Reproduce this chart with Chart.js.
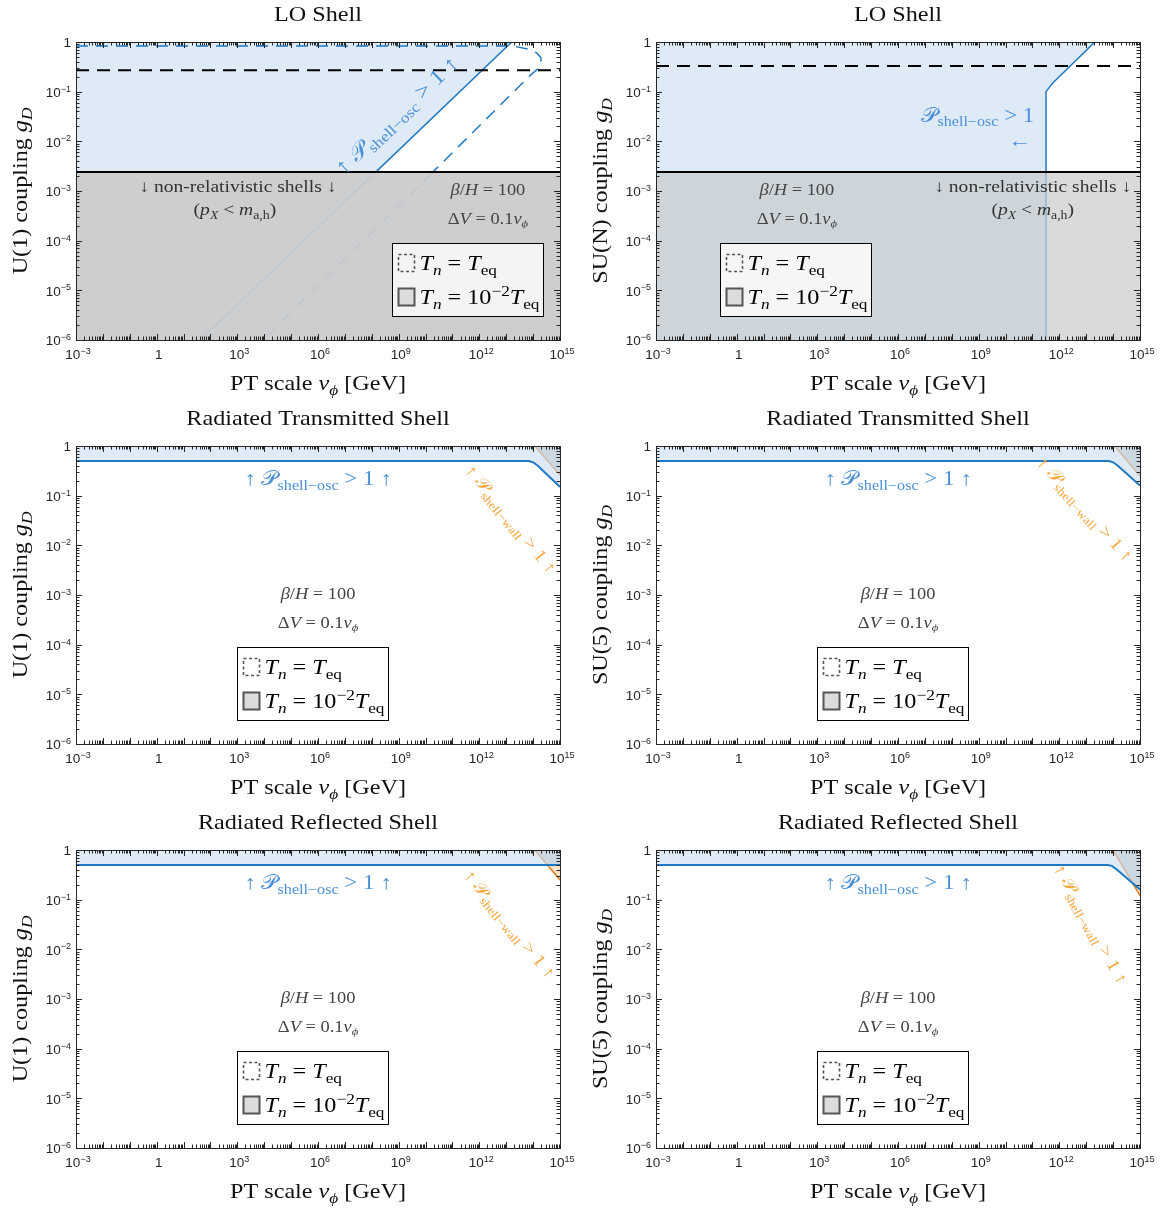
<!DOCTYPE html>
<html>
<head>
<meta charset="utf-8">
<script src="https://cdn.jsdelivr.net/npm/chart.js@4.4.1/dist/chart.umd.min.js"></script>
<style>
  body { margin: 0; background: #fff; }
  #grid { position: relative; width: 1163px; height: 1210px; }
  .cell { position: absolute; }
</style>
</head>
<body>
<div id="grid">
  <div class="cell" style="left:0;top:0"><canvas id="c0" width="580" height="404"></canvas></div>
  <div class="cell" style="left:580px;top:0"><canvas id="c1" width="583" height="404"></canvas></div>
  <div class="cell" style="left:0;top:404px"><canvas id="c2" width="580" height="404"></canvas></div>
  <div class="cell" style="left:580px;top:404px"><canvas id="c3" width="583" height="404"></canvas></div>
  <div class="cell" style="left:0;top:808px"><canvas id="c4" width="580" height="404"></canvas></div>
  <div class="cell" style="left:580px;top:808px"><canvas id="c5" width="583" height="404"></canvas></div>
</div>
<script>
// axes
const xTickValues = [1e-3, 1, 1e3, 1e6, 1e9, 1e12, 1e15];
const xTickLabels = ['10^-3', '1', '10^3', '10^6', '10^9', '10^12', '10^15'];
const yTickValues = [1e-6, 1e-5, 1e-4, 1e-3, 1e-2, 1e-1, 1];
const yTickLabels = ['10^-6', '10^-5', '10^-4', '10^-3', '10^-2', '10^-1', '1'];

const panelTitles = ['LO Shell', 'LO Shell', 'Radiated Transmitted Shell', 'Radiated Transmitted Shell',
                     'Radiated Reflected Shell', 'Radiated Reflected Shell'];
const gaugeGroups = ['U(1)', 'SU(N)', 'U(1)', 'SU(5)', 'U(1)', 'SU(5)'];

// non-relativistic bound and the black dashed reference lines (g_D)
const nonRelG = 2.4e-3;
const loU1DashRef = 0.27;
const loSUNDashRef = 0.33;

// LO shell U(1): Tn = 1e-2 Teq (solid) and Tn = Teq (dashed)
const loU1SolidV = [41, 1.4e8, 1.6e13];
const loU1SolidG = [1e-6, 2.4e-3, 1];
const loU1DashV = [1e-3, 1.8e13, 6.3e13, 1.4e14, 1.95e14, 1.95e14, 1.5e14, 7.6e13, 1.86e10, 8.9e3];
const loU1DashG = [0.83, 0.83, 0.72, 0.6, 0.48, 0.36, 0.29, 0.21, 2.4e-3, 1e-6];

// LO shell SU(N)
const loSUNV = [3.2e11, 3.2e11, 3.2e11, 5.7e11, 2.1e13];
const loSUNG = [1e-6, 2.4e-3, 0.1, 0.15, 1];

// radiated shells: P_shell-osc (blue) and P_shell-wall (orange) boundaries
const radTransU1OscV = [1e-3, 7e13, 1e14, 1.5e14, 1e15];
const radTransU1OscG = [0.5, 0.5, 0.47, 0.4, 0.15];
const radTransU1WallV = [1.15e14, 1e15];
const radTransU1WallG = [1, 0.26];

const radTransSU5OscV = [1e-3, 7e13, 1e14, 1.5e14, 1e15];
const radTransSU5OscG = [0.5, 0.5, 0.47, 0.4, 0.16];
const radTransSU5WallV = [1.15e14, 1e15];
const radTransSU5WallG = [1, 0.25];

const radReflU1OscV = [1e-3, 1e15];
const radReflU1OscG = [0.5, 0.5];
const radReflU1WallV = [1.15e14, 3.4e14, 1e15];
const radReflU1WallG = [1, 0.5, 0.25];

const radReflSU5OscV = [1e-3, 6.3e13, 9e13, 1.4e14, 1e15];
const radReflSU5OscG = [0.5, 0.5, 0.48, 0.4, 0.16];
const radReflSU5WallV = [1e14, 5.4e14, 1e15];
const radReflSU5WallG = [1, 0.213, 0.12];

const SERIF = '"Liberation Serif", "DejaVu Serif", serif';
const SANS = '"Liberation Sans", Arial, sans-serif';
const BLUE = 'rgb(30,120,195)';
const BLUE_TEXT = 'rgb(74,144,217)';
const BLUE_FAINT = 'rgb(172,196,220)';
const BLUE_FILL = 'rgb(222,235,247)';
const OVERLAP_FILL = 'rgb(204,216,225)';
const WALL_FILL = 'rgb(252,226,200)';
const ORANGE = 'rgb(226,122,32)';
const TAN = 'rgb(212,184,160)';
const ORANGE_TEXT = 'rgb(247,165,60)';
const NONE = 'rgba(0,0,0,0)';

const pts = (xs, ys) => xs.map((x, i) => ({x, y: ys[i]}));

function logInterp(xs, ys, x) {
  for (let i = 0; i < xs.length - 1; i++) {
    if (x >= xs[i] && x <= xs[i + 1]) {
      const t = (Math.log10(x) - Math.log10(xs[i])) / (Math.log10(xs[i + 1]) - Math.log10(xs[i]));
      return Math.pow(10, Math.log10(ys[i]) + t * (Math.log10(ys[i + 1]) - Math.log10(ys[i])));
    }
  }
  return 0;
}

function line(data, color, width, dash, order) {
  return {data, borderColor: color, borderWidth: width, borderDash: dash || [], fill: false, pointRadius: 0, order: order || 1};
}
function area(data, fill, color, order) {
  return {data, borderColor: NONE, borderWidth: 0, backgroundColor: color, fill, pointRadius: 0, order};
}

function loU1Sets() {
  return [
    line(pts([1e-3, 1e15], [nonRelG, nonRelG]), '#000', 2),
    line(pts([1e-3, 1e15], [loU1DashRef, loU1DashRef]), '#000', 2, [13, 8]),
    line(pts(loU1SolidV.slice(1), loU1SolidG.slice(1)), BLUE, 1.5),
    line(pts(loU1SolidV.slice(0, 2), loU1SolidG.slice(0, 2)), BLUE_FAINT, 1, [], 2),
    line(pts(loU1DashV.slice(0, 9), loU1DashG.slice(0, 9)), BLUE, 1.5, [12, 8]),
    line(pts(loU1DashV.slice(8), loU1DashG.slice(8)), BLUE_FAINT, 1, [12, 8], 2),
    area(pts([1e-3, 1e15], [nonRelG, nonRelG]), 'start', 'rgb(206,206,206)', 10),
    area(pts([1e-3].concat(loU1SolidV.slice(1)), [nonRelG].concat(loU1SolidG.slice(1))), 'end', BLUE_FILL, 10)
  ];
}

function loSUNSets() {
  return [
    line(pts([1e-3, 1e15], [nonRelG, nonRelG]), '#000', 2),
    line(pts([1e-3, 1e15], [loSUNDashRef, loSUNDashRef]), '#000', 2, [13, 8]),
    line(pts(loSUNV.slice(1), loSUNG.slice(1)), BLUE, 1.5),
    line(pts(loSUNV.slice(0, 2), loSUNG.slice(0, 2)), 'rgba(90,150,205,0.75)', 1, [], 2),
    area(pts([1e-3, 1e15], [nonRelG, nonRelG]), 'start', 'rgb(218,218,218)', 12),
    area(pts([1e-3, loSUNV[0]], [nonRelG, nonRelG]), 'start', 'rgb(206,213,218)', 11),
    area(pts([1e-3].concat(loSUNV.slice(1)), [nonRelG].concat(loSUNG.slice(1))), 'end', BLUE_FILL, 11)
  ];
}

function radiatedSets(oscV, oscG, wallV, wallG) {
  const segColor = c => {
    const xm = Math.sqrt(c.p0.parsed.x * c.p1.parsed.x);
    const ym = Math.sqrt(c.p0.parsed.y * c.p1.parsed.y);
    return ym > logInterp(oscV, oscG, xm) * 1.001 ? TAN : ORANGE;
  };
  const wall = line(pts(wallV, wallG), ORANGE, 1.5);
  wall.segment = {borderColor: segColor};
  return [
    line(pts(oscV, oscG), BLUE, 2),
    wall,
    area(pts(oscV, oscG), 'end', BLUE_FILL, 13),
    area(pts(wallV, wallG), 'end', OVERLAP_FILL, 12),
    area(pts(wallV, wallG), {target: 0, above: NONE, below: WALL_FILL}, WALL_FILL, 11)
  ];
}

// rich text runs
const oscArrowRuns = [['↑ ', 'r'], ['𝒫', 'r'], ['shell−osc', 'sub'], [' > 1 ↑', 'r']];
const wallRuns = [['↑ ', 'r'], ['𝒫', 'r'], ['shell−wall', 'sub'], [' > 1 ↑', 'r']];
const nonRelRuns = [['↓ non-relativistic shells ↓', 'r']];
const massRuns = [['(', 'r'], ['p', 'i'], ['X', 'subi'], [' < ', 'r'], ['m', 'i'], ['a,h', 'sub'], [')', 'r']];
const betaRuns = [['β', 'i'], ['/', 'r'], ['H', 'i'], [' = 100', 'r']];
const dvRuns = [['Δ', 'r'], ['V', 'i'], [' = 0.1', 'r'], ['v', 'i'], ['ϕ', 'subi']];
const legendTeqRuns = [['T', 'i'], ['n', 'subi'], [' = ', 'r'], ['T', 'i'], ['eq', 'sub']];
const legendTlowRuns = [['T', 'i'], ['n', 'subi'], [' = 10', 'r'], ['−2', 'sup'], ['T', 'i'], ['eq', 'sub']];
const xTitleRuns = [['PT scale ', 'r'], ['v', 'i'], ['ϕ', 'subi'], [' [GeV]', 'r']];

const p10 = e => Math.pow(10, e);
const infoTexts = (xe) => [
  {runs: betaRuns, at: [p10(xe), p10(-2.97)], size: 16, color: '#444'},
  {runs: dvRuns, at: [p10(xe), p10(-3.55)], size: 16, color: '#444'}
];

const panelSpecs = {
  c0: {sets: loU1Sets(), legendAt: [316, 201], texts: [
    {runs: nonRelRuns, at: [p10(3.02), p10(-2.9)], size: 17, color: '#333'},
    {runs: massRuns, at: [p10(2.91), p10(-3.38)], size: 17, color: '#333'},
    {runs: oscArrowRuns, at: [p10(8.93), p10(-1.47)], size: 22, color: BLUE_TEXT, angle: -43.5}
  ].concat(infoTexts(12.32))},
  c1: {sets: loSUNSets(), legendAt: [64, 201], texts: [
    {runs: nonRelRuns, at: [p10(11.01), p10(-2.9)], size: 17, color: '#333'},
    {runs: massRuns, at: [p10(11.01), p10(-3.38)], size: 17, color: '#333'},
    {runs: [['𝒫', 'r'], ['shell−osc', 'sub'], [' > 1', 'r']], at: [p10(8.97), p10(-1.47)], size: 20, color: BLUE_TEXT},
    {runs: [['←', 'r']], at: [p10(10.53), p10(-1.99)], size: 20, color: BLUE_TEXT}
  ].concat(infoTexts(2.24))},
  c2: {sets: radiatedSets(radTransU1OscV, radTransU1OscG, radTransU1WallV, radTransU1WallG), legendAt: [161, 201], texts: [
    {runs: oscArrowRuns, at: [1e6, p10(-0.66)], size: 20, color: BLUE_TEXT},
    {runs: wallRuns, at: [p10(13.17), p10(-1.47)], size: 17.5, color: ORANGE_TEXT, angle: 51}
  ].concat(infoTexts(6))},
  c3: {sets: radiatedSets(radTransSU5OscV, radTransSU5OscG, radTransSU5WallV, radTransSU5WallG), legendAt: [161, 201], texts: [
    {runs: oscArrowRuns, at: [1e6, p10(-0.66)], size: 20, color: BLUE_TEXT},
    {runs: wallRuns, at: [p10(12.95), p10(-1.27)], size: 17.5, color: ORANGE_TEXT, angle: 48}
  ].concat(infoTexts(6))},
  c4: {sets: radiatedSets(radReflU1OscV, radReflU1OscG, radReflU1WallV, radReflU1WallG), legendAt: [161, 201], texts: [
    {runs: oscArrowRuns, at: [1e6, p10(-0.66)], size: 20, color: BLUE_TEXT},
    {runs: wallRuns, at: [p10(13.13), p10(-1.49)], size: 17.5, color: ORANGE_TEXT, angle: 51}
  ].concat(infoTexts(6))},
  c5: {sets: radiatedSets(radReflSU5OscV, radReflSU5OscG, radReflSU5WallV, radReflSU5WallG), legendAt: [161, 201], texts: [
    {runs: oscArrowRuns, at: [1e6, p10(-0.66)], size: 20, color: BLUE_TEXT},
    {runs: wallRuns, at: [p10(13.17), p10(-1.49)], size: 17.5, color: ORANGE_TEXT, angle: 61}
  ].concat(infoTexts(6))}
};

function drawRich(ctx, runs, x, y, o) {
  const size = o.size || 17, sx = o.sx || 1.15;
  const family = o.family || SERIF;
  const parts = runs.map(([t, k]) => {
    const small = k === 'sub' || k === 'subi' || k === 'sup';
    const fs = small ? Math.round(size * 0.7) : size;
    const italic = k === 'i' || k === 'subi';
    const font = (italic ? 'italic ' : '') + fs + 'px ' + family;
    ctx.font = font;
    const dy = (k === 'sub' || k === 'subi') ? size * 0.22 : k === 'sup' ? -size * 0.4 : 0;
    return {t, font, dy, w: ctx.measureText(t).width};
  });
  const total = parts.reduce((s, p) => s + p.w, 0);
  ctx.save();
  ctx.translate(x, y);
  if (o.angle) ctx.rotate(o.angle * Math.PI / 180);
  ctx.scale(sx, 1);
  ctx.fillStyle = o.color || '#000';
  ctx.textBaseline = 'alphabetic';
  ctx.textAlign = 'left';
  let cx = o.align === 'left' ? 0 : o.align === 'right' ? -total : -total / 2;
  parts.forEach(p => { ctx.font = p.font; ctx.fillText(p.t, cx, p.dy + size * 0.33); cx += p.w; });
  ctx.restore();
}

// tick label like '10^-3' -> base '10' with raised exponent
function tickRuns(label) {
  const [base, exp] = label.split('^');
  return exp ? [[base, 'r'], [exp.replace('-', '−'), 'sup']] : [[base, 'r']];
}

function drawTickLabels(ctx, a, xs, ys) {
  const opt = {size: 13.5, sx: 1, family: SANS, color: '#262626'};
  xs.ticks.forEach((t, i) => {
    drawRich(ctx, tickRuns(xTickLabels[i]), xs.getPixelForValue(t.value) + 2, a.bottom + 15, opt);
  });
  ys.ticks.forEach((t, i) => {
    drawRich(ctx, tickRuns(yTickLabels[i]), a.left - 5, ys.getPixelForValue(t.value) + 1, Object.assign({align: 'right'}, opt));
  });
}

function drawLegend(ctx, a, off) {
  const x = Math.round(a.left + off[0]) + 0.5, y = Math.round(a.top + off[1]) + 0.5, w = 151, h = 73;
  ctx.save();
  ctx.fillStyle = 'rgba(255,255,255,0.78)';
  ctx.fillRect(x, y, w, h);
  ctx.strokeStyle = '#000'; ctx.lineWidth = 1;
  ctx.strokeRect(x, y, w, h);
  ctx.setLineDash([3, 2.5]); ctx.strokeStyle = '#555'; ctx.lineWidth = 1.6;
  ctx.strokeRect(x + 6, y + 11, 16, 17);
  ctx.setLineDash([]);
  ctx.fillStyle = '#dcdcdc'; ctx.fillRect(x + 6, y + 45, 16, 17);
  ctx.strokeStyle = '#555'; ctx.lineWidth = 2;
  ctx.strokeRect(x + 6, y + 45, 16, 17);
  ctx.restore();
  drawRich(ctx, legendTeqRuns, x + 27, y + 20, {size: 21, align: 'left'});
  drawRich(ctx, legendTlowRuns, x + 27, y + 54, {size: 21, align: 'left'});
}

function drawFrame(ctx, a, xs, ys) {
  ctx.save();
  ctx.strokeStyle = '#262626';
  ctx.lineWidth = 1;
  ctx.beginPath();
  for (let e = -3; e <= 15; e++) {
    for (let m = 1; m <= 9; m++) {
      const v = m * Math.pow(10, e);
      if (v > 1e15 * 1.0001) break;
      const px = Math.round(xs.getPixelForValue(v)) + 0.5, len = m === 1 ? 6 : 3.5;
      ctx.moveTo(px, a.bottom); ctx.lineTo(px, a.bottom - len);
      ctx.moveTo(px, a.top); ctx.lineTo(px, a.top + len);
    }
  }
  for (let e = -6; e <= 0; e++) {
    for (let m = 1; m <= 9; m++) {
      const v = m * Math.pow(10, e);
      if (v > 1.0001) break;
      const py = Math.round(ys.getPixelForValue(v)) + 0.5, len = m === 1 ? 6 : 3.5;
      ctx.moveTo(a.left, py); ctx.lineTo(a.left + len, py);
      ctx.moveTo(a.right, py); ctx.lineTo(a.right - len, py);
    }
  }
  ctx.stroke();
  ctx.strokeRect(Math.round(a.left) + 0.5, Math.round(a.top) + 0.5, Math.round(a.right - a.left), Math.round(a.bottom - a.top));
  ctx.restore();
}

const panelDecor = {
  id: 'panelDecor',
  afterDatasetsDraw(chart) {
    const spec = panelSpecs[chart.canvas.id];
    const {ctx, chartArea: a, scales: {x, y}} = chart;
    spec.texts.forEach(t => drawRich(ctx, t.runs, x.getPixelForValue(t.at[0]), y.getPixelForValue(t.at[1]), t));
    drawLegend(ctx, a, spec.legendAt);
    drawFrame(ctx, a, x, y);
  },
  afterDraw(chart) {
    const spec = panelSpecs[chart.canvas.id];
    const {ctx, chartArea: a, scales: {x, y}} = chart;
    const mx = (a.left + a.right) / 2, my = (a.top + a.bottom) / 2;
    drawTickLabels(ctx, a, x, y);
    drawRich(ctx, [[spec.title, 'r']], mx, a.top - 28, {size: 21, color: '#111'});
    drawRich(ctx, xTitleRuns, mx, a.bottom + 43, {size: 21, color: '#111'});
    drawRich(ctx, [[spec.group + ' coupling ', 'r'], ['g', 'i'], ['D', 'subi']], 20, my, {size: 21, color: '#111', angle: -90});
  }
};

document.addEventListener('DOMContentLoaded', () => {
  Object.keys(panelSpecs).forEach((id, i) => {
    const spec = panelSpecs[id];
    spec.title = panelTitles[i];
    spec.group = gaugeGroups[i];
    const canvas = document.getElementById(id);
    new Chart(canvas, {
      type: 'line',
      data: {datasets: spec.sets},
      options: {
        responsive: false,
        animation: false,
        events: [],
        layout: {padding: {left: 36, top: 42, right: canvas.width - 560, bottom: 0}},
        elements: {line: {tension: 0}},
        plugins: {legend: {display: false}, tooltip: {enabled: false}},
        scales: {
          x: {
            type: 'logarithmic', min: 1e-3, max: 1e15,
            afterBuildTicks: s => { s.ticks = xTickValues.map(v => ({value: v})); },
            ticks: {display: false},
            grid: {display: false, drawTicks: false},
            border: {display: false},
            afterFit: s => { s.height = 64; s.paddingLeft = 0; s.paddingRight = 0; }
          },
          y: {
            type: 'logarithmic', min: 1e-6, max: 1,
            afterBuildTicks: s => { s.ticks = yTickValues.map(v => ({value: v})); },
            ticks: {display: false},
            grid: {display: false, drawTicks: false},
            border: {display: false},
            afterFit: s => { s.width = 40; s.paddingTop = 0; s.paddingBottom = 0; }
          }
        }
      },
      plugins: [panelDecor]
    });
  });
});
</script>
</body>
</html>
